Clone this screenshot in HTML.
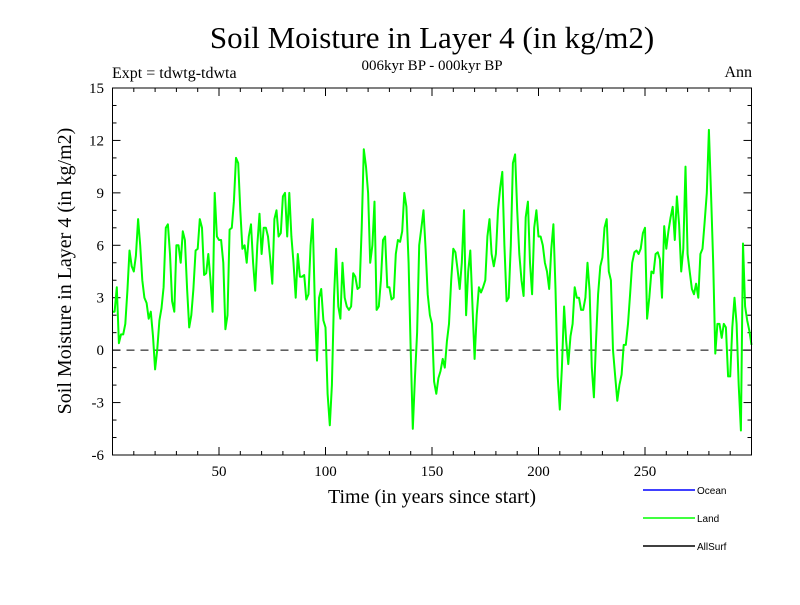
<!DOCTYPE html>
<html><head><meta charset="utf-8"><style>
body{margin:0;background:#fff;width:800px;height:600px;overflow:hidden}
svg text{font-family:"Liberation Serif",serif}
</style></head><body>
<svg id="chart" width="800" height="600" xmlns="http://www.w3.org/2000/svg">
<rect width="800" height="600" fill="#fff"/>
<text x="432" y="48" font-size="31" text-anchor="middle">Soil Moisture in Layer 4 (in kg/m2)</text>
<text x="432" y="70" font-size="15" text-anchor="middle">006kyr BP - 000kyr BP</text>
<text x="112" y="78" font-size="16">Expt = tdwtg-tdwta</text>
<text x="752" y="77" font-size="16" text-anchor="end">Ann</text>
<text x="432" y="503" font-size="20" text-anchor="middle">Time (in years since start)</text>
<text transform="translate(71,271) rotate(-90)" font-size="20" text-anchor="middle">Soil Moisture in Layer 4 (in kg/m2)</text>
<g id="axes"></g>
<g id="series"></g>
<rect x="112.5" y="88" width="639" height="367" fill="none" stroke="#000" stroke-width="1"/>
<g font-family="Liberation Sans, sans-serif">
<g><line x1="643" y1="490" x2="695" y2="490" stroke="#0000ff" stroke-width="1.5"/><text x="697" y="494" font-size="10" style="font-family:'Liberation Sans',sans-serif">Ocean</text></g>
<g><line x1="643" y1="518" x2="695" y2="518" stroke="#00ff00" stroke-width="1.5"/><text x="697" y="522" font-size="10" style="font-family:'Liberation Sans',sans-serif">Land</text></g>
<g><line x1="643" y1="546" x2="695" y2="546" stroke="#000" stroke-width="1.5"/><text x="697" y="550" font-size="10" style="font-family:'Liberation Sans',sans-serif">AllSurf</text></g>
</g>
</svg>
<script>
const xTicks = [50, 100, 150, 200, 250];
const yTicks = [-6, -3, 0, 3, 6, 9, 12, 15];
const landValues = [
2.2,2.2,3.6,0.4,0.9,0.9,1.5,3.4,5.7,4.8,4.5,5.4,7.5,6.0,4.0,3.0,2.7,1.8,2.2,0.8,
-1.1,0,1.7,2.4,3.6,7.0,7.2,5.5,2.8,2.2,6.0,6.0,5.0,6.8,6.3,3.5,1.3,2.0,3.5,5.7,
5.8,7.5,7.0,4.3,4.4,5.5,4.0,2.2,9.0,6.5,6.3,
6.3,5.0,1.2,2.0,6.9,7.0,8.5,11.0,10.7,8.0,5.8,6.0,5.0,6.5,7.2,5.0,3.4,6.0,7.8,
5.5,7.0,7.0,6.5,5.3,3.8,7.5,8.0,6.5,6.7,8.8,9.0,6.5,9.0,6.5,5.0,3.0,5.5,4.2,4.2,
4.3,2.9,3.2,6.0,7.5,2.5,-0.6,3.0,3.5,1.7,1.3,-2.5,
-4.3,-2.0,3.0,5.8,2.5,1.8,5.0,3.0,2.5,2.3,2.5,4.4,4.2,3.5,3.6,7.0,11.5,10.5,9.0,
5.0,6.0,8.5,2.3,2.5,4.0,6.3,6.5,3.6,3.6,2.9,3.0,5.5,6.3,6.2,6.8,9.0,8.2,5.0,0.0,
-4.5,-1.5,1.0,6.0,7.0,8.0,5.8,3.2,2.0,1.5,
-1.8,-2.5,-1.6,-1.2,-0.5,-1.0,0.5,1.5,4.0,5.8,5.6,4.6,3.5,5.0,8.0,2.0,4.5,5.7,2.5,
-0.5,2.0,3.6,3.3,3.6,4.0,6.5,7.5,5.5,4.8,5.5,8.0,9.3,10.2,6.0,2.8,3.0,6.0,10.7,
11.2,8.0,5.5,4.0,3.1,7.6,8.5,5.0,3.2,7.0,8.0,6.5,
6.5,6.0,5.0,4.5,3.5,5.8,7.2,3.5,-1.5,-3.4,-1.0,2.5,0.5,-0.8,0.8,1.5,3.6,3.0,3.0,
2.3,2.3,3.0,5.0,3.4,-1.0,-2.7,0.5,3.2,4.8,5.3,7.0,7.5,4.5,4.0,0.0,-1.5,-2.9,-2.0,
-1.4,0.3,0.3,1.5,3.2,5.0,5.6,5.7,5.5,5.8,6.7,7.0,
1.8,3.0,4.5,4.4,5.5,5.6,5.2,3.0,7.1,5.8,6.8,7.6,8.2,6.3,8.8,7.2,4.5,5.8,10.5,5.5,
4.5,3.5,3.2,3.8,3.0,5.5,5.8,7.3,9.0,12.6,9.0,5.0,-0.2,1.5,1.5,0.7,1.5,1.3,-1.5,
-1.5,1.3,3.0,1.5,-2.0,-4.6,6.1,2.5,1.7,1.1,0.3];
const X0=112.5, X1=751.5, Y0=455, Y1=88, XMIN=0, XMAX=300, YMIN=-6, YMAX=15;
function sx(v){return X0+(v-XMIN)/(XMAX-XMIN)*(X1-X0);}
function sy(v){return Y0-(v-YMIN)/(YMAX-YMIN)*(Y0-Y1);}
const NS='http://www.w3.org/2000/svg';
const axes=document.getElementById('axes'), series=document.getElementById('series');
function mk(tag,attrs,parent){const e=document.createElementNS(NS,tag);for(const k in attrs)e.setAttribute(k,attrs[k]);parent.appendChild(e);return e;}
// y ticks
for(let v=YMIN; v<=YMAX; v++){
  const major = yTicks.includes(v); const L = major?8:4;
  const t1=mk('line',{x1:X0,x2:X0+L,y1:sy(v),y2:sy(v),stroke:'#000'},axes);
  
  
  const t2=mk('line',{x1:X1,x2:X1-L,y1:sy(v),y2:sy(v),stroke:'#000'},axes);
  
  
}
yTicks.forEach(v=>{
  const t=mk('text',{x:104,y:sy(v)+5,'font-size':15,'text-anchor':'end'},axes);
  t.textContent=v;
  
  
});
for(let v=10; v<XMAX; v+=10){
  const major = xTicks.includes(v); const L = major?8:4;
  const t1=mk('line',{x1:sx(v),x2:sx(v),y1:Y0,y2:Y0-L,stroke:'#000'},axes);
  
  
  const t2=mk('line',{x1:sx(v),x2:sx(v),y1:Y1,y2:Y1+L,stroke:'#000'},axes);
  
  
}
xTicks.forEach(v=>{
  const t=mk('text',{x:sx(v),y:476,'font-size':15,'text-anchor':'middle'},axes);
  t.textContent=v;
  
  
});
const zl=mk('line',{x1:X0,x2:X1,y1:sy(0),y2:sy(0),stroke:'#000','stroke-dasharray':'8,6'},axes);


const pts=landValues.map((v,i)=>sx(i).toFixed(1)+','+sy(v).toFixed(1)).join(' ');
const pl=mk('polyline',{points:pts,fill:'none',stroke:'#00ff00','stroke-width':2,'stroke-linejoin':'round'},series);


</script>
</body></html>
